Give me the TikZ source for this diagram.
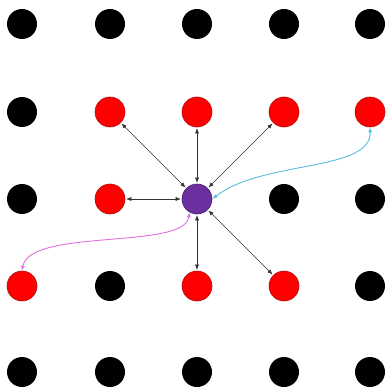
\documentclass[tikz,border=0pt]{standalone}
\usetikzlibrary{arrows.meta}
\definecolor{dotred}{HTML}{FF0000}
\definecolor{dotredline}{HTML}{B01010}
\definecolor{dotpurple}{HTML}{6B2FA0}
\definecolor{linkcyan}{HTML}{55BEDD}
\definecolor{linkviolet}{HTML}{E070E0}
\tikzset{
  dot/.style={circle, minimum size=30pt, inner sep=0pt, fill=black},
  reddot/.style={dot, fill=dotred, draw=dotredline, line width=0.6pt},
  centerdot/.style={dot, fill=dotpurple, draw=dotpurple!70!black, line width=0.6pt},
  tip/.tip={Latex[length=5pt,width=4pt]},
  link/.style={tip-tip, line width=0.45pt, black!80, shorten <=1pt, shorten >=1pt},
  curvedlink/.style={tip-tip, line width=0.9pt},
}
\begin{document}
\begin{tikzpicture}[x=1pt,y=-1pt]
  \useasboundingbox (0,0) rectangle (385,390);
  % 5 x 5 lattice, column and row positions
  \foreach \c/\x in {1/22,2/110,3/197,4/284,5/370}{
    \foreach \r/\y in {1/24,2/112,3/199,4/286,5/372}{
      \coordinate (p\c\r) at (\x,\y);
    }
  }
  % black lattice points
  \foreach \c/\r in {1/1,2/1,3/1,4/1,5/1,
                     1/2,
                     1/3,4/3,5/3,
                     2/4,5/4,
                     1/5,2/5,3/5,4/5,5/5}{
    \node[dot] (n\c\r) at (p\c\r) {};
  }
  % red neighbours
  \foreach \c/\r in {2/2,3/2,4/2,5/2,2/3,1/4,3/4,4/4}{
    \node[reddot] (n\c\r) at (p\c\r) {};
  }
  % central point
  \node[centerdot] (n33) at (p33) {};
  % nearest-neighbour links
  \foreach \c/\r in {2/2,3/2,4/2,2/3,3/4,4/4}{
    \draw[link] (n33) -- (n\c\r);
  }
  % long-range links
  \draw[curvedlink, linkcyan] (n33.east) .. controls (262,160) and (372,172) .. (n52.south);
  \draw[curvedlink, linkviolet] (n33.-120) .. controls (185,250) and (30,228) .. (n14.north);
\end{tikzpicture}
\end{document}
